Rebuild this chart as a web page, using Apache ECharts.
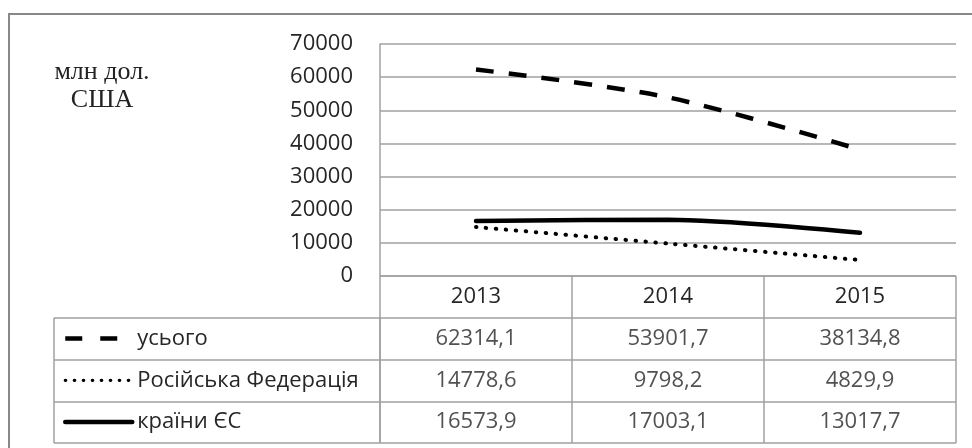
<!DOCTYPE html>
<html><head><meta charset="utf-8">
<script src="https://cdn.jsdelivr.net/npm/echarts@6/dist/echarts.min.js"></script>
<style>html,body{margin:0;padding:0;background:#fff}#c{width:972px;height:448px}</style>
</head><body><div id="c"></div>
<script>
// ---- data ----
var years = ['2013', '2014', '2015'];
var seriesNames = ['усього', 'Російська Федерація', 'країни ЄС'];
var total = [62314.1, 53901.7, 38134.8];
var russia = [14778.6, 9798.2, 4829.9];
var eu = [16573.9, 17003.1, 13017.7];
var yTicks = [0, 10000, 20000, 30000, 40000, 50000, 60000, 70000];
var unitLabel = 'млн дол.\nСША';

// ---- styles ----
var FONT = '"Open Sans", "Liberation Sans", sans-serif';
var TXT = '#262626';
var GRIDC = '#a0a0a0';
var rows = [total, russia, eu];
function fmt(v) { return v.toFixed(1).replace('.', ','); }

var cellData = [];
rows.forEach(function (arr, r) {
  arr.forEach(function (v, i) { cellData.push({ name: fmt(v), value: [i, r + 1] }); });
});

var lineStyles = [
  { type: [18, 15], width: 4.5, cap: 'butt', color: '#000' },
  { type: [0.5, 9.5], width: 4, cap: 'round', color: '#000' },
  { type: 'solid', width: 4.5, cap: 'round', color: '#000' }
];
var legendLineStyles = [
  { type: [17, 18], width: 4.5, color: '#000', cap: 'butt' },
  { type: [0.5, 8.5], width: 3.2, color: '#000', cap: 'round' },
  { type: 'solid', width: 4.5, color: '#000' }
];

var chart = echarts.init(document.getElementById('c'), null, { renderer: 'canvas' });
var option = {
  animation: false,
  backgroundColor: '#fff',
  graphic: [
    { type: 'line', shape: { x1: 9, y1: 14, x2: 980, y2: 14 }, style: { stroke: '#888', lineWidth: 2 }, silent: true },
    { type: 'line', shape: { x1: 9, y1: 13, x2: 9, y2: 460 }, style: { stroke: '#888', lineWidth: 2 }, silent: true },
    { type: 'text', x: 102, y: 57.5, style: { text: unitLabel, align: 'center', verticalAlign: 'top', font: '26px "Liberation Serif", "Times New Roman", serif', lineHeight: 28.5, fill: '#222' }, silent: true }
  ],
  legend: {
    orient: 'vertical', left: 63, top: 326.6, padding: 0,
    itemWidth: 67, itemHeight: 14, itemGap: 17.75, selectedMode: false,
    itemStyle: { opacity: 0 },
    textStyle: { fontFamily: FONT, fontSize: 22, color: TXT, lineHeight: 24 },
    data: seriesNames.map(function (n, k) { return { name: n, lineStyle: legendLineStyles[k], itemStyle: { opacity: 0 } }; })
  },
  grid: [
    { left: 380, right: 16, top: 44, height: 232, show: false },
    { left: 380, right: 16, top: 276, height: 167, show: false },
    { left: 54, width: 326, top: 317.75, height: 125.25, show: false }
  ],
  xAxis: [
    { gridIndex: 0, type: 'category', data: years, boundaryGap: true,
      axisLine: { show: false }, axisTick: { show: false }, splitLine: { show: false }, splitArea: { show: false },
      axisLabel: { margin: 21, verticalAlign: 'middle', fontFamily: FONT, fontSize: 22, color: TXT } },
    { gridIndex: 1, type: 'category', data: years, boundaryGap: true,
      axisLine: { show: false }, axisTick: { show: false }, axisLabel: { show: false },
      splitLine: { show: true, interval: 0, lineStyle: { color: GRIDC, width: 1.5 } } },
    { gridIndex: 2, type: 'category', data: [''], boundaryGap: true,
      axisLine: { show: false }, axisTick: { show: false }, axisLabel: { show: false },
      splitLine: { show: true, interval: 0, lineStyle: { color: GRIDC, width: 1.5 } } }
  ],
  yAxis: [
    { gridIndex: 0, type: 'value', min: yTicks[0], max: yTicks[yTicks.length - 1], interval: yTicks[1] - yTicks[0],
      axisLine: { show: true, lineStyle: { color: GRIDC, width: 1.5 } }, axisTick: { show: false },
      axisLabel: { margin: 27, fontFamily: FONT, fontSize: 22, color: TXT, formatter: function (v) { return String(v); } },
      splitLine: { show: true, lineStyle: { color: GRIDC, width: 1.5 } } },
    { gridIndex: 1, type: 'category', data: ['h', 'r1', 'r2', 'r3'], inverse: true, boundaryGap: true,
      axisLine: { show: false }, axisTick: { show: false }, axisLabel: { show: false },
      splitLine: { show: true, interval: 0, lineStyle: { color: GRIDC, width: 1.5 } } },
    { gridIndex: 2, type: 'category', data: ['r1', 'r2', 'r3'], inverse: true, boundaryGap: true,
      axisLine: { show: false }, axisTick: { show: false }, axisLabel: { show: false },
      splitLine: { show: true, interval: 0, lineStyle: { color: GRIDC, width: 1.5 } } }
  ],
  series: [
    { name: seriesNames[0], type: 'line', data: total, symbol: 'none', smooth: 0.3, lineStyle: lineStyles[0], itemStyle: { color: '#000' }, z: 5 },
    { name: seriesNames[1], type: 'line', data: russia, symbol: 'none', smooth: 0.3, lineStyle: lineStyles[1], itemStyle: { color: '#000' }, z: 5 },
    { name: seriesNames[2], type: 'line', data: eu, symbol: 'none', smooth: 0.3, lineStyle: lineStyles[2], itemStyle: { color: '#000' }, z: 5 },
    { type: 'scatter', xAxisIndex: 1, yAxisIndex: 1, symbolSize: 0, data: cellData, silent: true,
      label: { show: true, position: 'inside', formatter: '{b}', fontFamily: FONT, fontSize: 22, color: TXT } }
  ]
};
chart.setOption(option);
</script>
</body></html>
